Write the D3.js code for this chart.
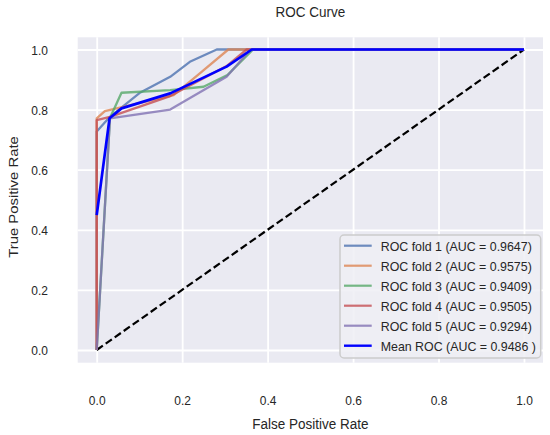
<!DOCTYPE html>
<html>
<head>
<meta charset="utf-8">
<script src="https://cdn.jsdelivr.net/npm/d3@7"></script>
<style>
  body { margin: 0; background: #fff; }
  text { font-family: "Liberation Sans", Arial, sans-serif; fill: #262626; }
</style>
</head>
<body>
<svg width="550" height="435"></svg>
<script>
var ticks = [0.0, 0.2, 0.4, 0.6, 0.8, 1.0];
var names = ['ROC fold 1', 'ROC fold 2', 'ROC fold 3', 'ROC fold 4', 'ROC fold 5', 'Mean ROC'];
var aucLabels = ['0.9647', '0.9575', '0.9409', '0.9505', '0.9294', '0.9486 '];
var colors = ['#4C72B0', '#DD8452', '#55A868', '#C44E52', '#8172B3', '#0000ff'];

// [fpr, tpr] pairs
var fold1 = [[0, 0], [0, 0.727], [0.031, 0.776], [0.1, 0.855], [0.172, 0.909], [0.218, 0.959], [0.281, 1], [1, 1]];
var fold2 = [[0, 0], [0, 0.771], [0.019, 0.795], [0.18, 0.848], [0.249, 0.93], [0.308, 1], [1, 1]];
var fold3 = [[0, 0], [0.031, 0.772], [0.058, 0.856], [0.172, 0.865], [0.25, 0.876], [0.306, 0.915], [0.366, 1], [1, 1]];
var fold4 = [[0, 0], [0, 0.765], [0.031, 0.776], [0.172, 0.845], [0.304, 0.945], [0.351, 1], [1, 1]];
var fold5 = [[0, 0], [0.031, 0.771], [0.172, 0.8], [0.304, 0.909], [0.36, 1], [1, 1]];
var meanRoc = [[0, 0.449], [0.03, 0.771], [0.058, 0.804], [0.172, 0.854], [0.304, 0.943], [0.363, 1], [1, 1]];
var chance = [[0, 0], [1, 1]];

var curves = [fold1, fold2, fold3, fold4, fold5, meanRoc];

var margin = {left: 77.7, top: 37.3};
var w = 465.3, h = 325.4;
var stretch = 1.1; // the picture's text is a bit taller than wide

var svg = d3.select('svg');
var g = svg.append('g').attr('transform', 'translate(' + margin.left + ',' + margin.top + ')');

var x = d3.scaleLinear().domain([-0.0445, 1.0445]).range([0, w]);
var y = d3.scaleLinear().domain([-0.0423, 1.0406]).range([h, 0]);

g.append('rect').attr('width', w).attr('height', h).attr('fill', '#EAEAF2');

var xAxis = g.append('g')
    .attr('transform', 'translate(0,' + h + ')')
    .call(d3.axisBottom(x).tickValues(ticks).tickFormat(d3.format('.1f')).tickSize(-h).tickPadding(33));
var yAxis = g.append('g')
    .call(d3.axisLeft(y).tickValues(ticks).tickFormat(d3.format('.1f')).tickSize(-w).tickPadding(29.7));

[xAxis, yAxis].forEach(a => {
    a.attr('color', '#262626');
    a.select('.domain').remove();
    a.selectAll('line').attr('stroke', '#fff').attr('stroke-width', 1.8);
    a.selectAll('text').attr('font-size', 12).style('fill', '#262626');
});
yAxis.selectAll('text').attr('dy', '0.36em');

function tall(sel) {
    sel.each(function() {
        var t = d3.select(this);
        var tx = +t.attr('x') || 0, ty = +t.attr('y') || 0;
        t.attr('transform', 'translate(' + tx + ',' + ty + ') scale(1,' + stretch + ') translate(' + (-tx) + ',' + (-ty) + ')');
    });
}
tall(xAxis.selectAll('text'));
tall(yAxis.selectAll('text'));

var line = d3.line().x(d => x(d[0])).y(d => y(d[1]));

g.append('path')
    .attr('d', line(chance))
    .attr('fill', 'none')
    .attr('stroke', '#000')
    .attr('stroke-width', 2.2)
    .attr('stroke-dasharray', '7.5,3.5');

curves.forEach((c, i) => {
    g.append('path')
        .attr('d', line(c))
        .attr('fill', 'none')
        .attr('stroke', colors[i])
        .attr('stroke-width', i == 5 ? 2.7 : 2.3)
        .attr('stroke-opacity', i == 5 ? 1 : 0.8)
        .attr('stroke-linejoin', 'round');
});

// legend
var lg = svg.append('g').attr('transform', 'translate(340,235)');
lg.append('rect')
    .attr('width', 200.7).attr('height', 123)
    .attr('rx', 4)
    .attr('fill', '#EEEEF4').attr('fill-opacity', 0.85)
    .attr('stroke', '#cccccc').attr('stroke-width', 1.5);
var rows = lg.selectAll('g.row')
    .data(names)
    .enter().append('g')
    .attr('class', 'row')
    .attr('transform', (d, i) => 'translate(0,' + (10.7 + 20 * i) + ')');
rows.append('line')
    .attr('x1', 4).attr('x2', 31.7)
    .attr('stroke', (d, i) => colors[i])
    .attr('stroke-opacity', (d, i) => i == 5 ? 1 : 0.8)
    .attr('stroke-width', (d, i) => i == 5 ? 2.4 : 2.2);
rows.append('text')
    .attr('x', 40.7)
    .attr('dy', '0.36em')
    .attr('font-size', 12.4)
    .text((d, i) => d + ' (AUC = ' + aucLabels[i] + ')');
tall(rows.selectAll('text'));

svg.append('text')
    .attr('x', 310.5).attr('y', 17.3)
    .attr('text-anchor', 'middle')
    .attr('font-size', 13.5)
    .text('ROC Curve')
    .call(tall);
svg.append('text')
    .attr('x', 310.5).attr('y', 429)
    .attr('text-anchor', 'middle')
    .attr('font-size', 13.5)
    .text('False Positive Rate')
    .call(tall);
svg.append('text')
    .attr('transform', 'translate(18,197) rotate(-90) scale(' + stretch + ',1)')
    .attr('text-anchor', 'middle')
    .attr('font-size', 13.5)
    .text('True Positive Rate');
</script>
</body>
</html>
